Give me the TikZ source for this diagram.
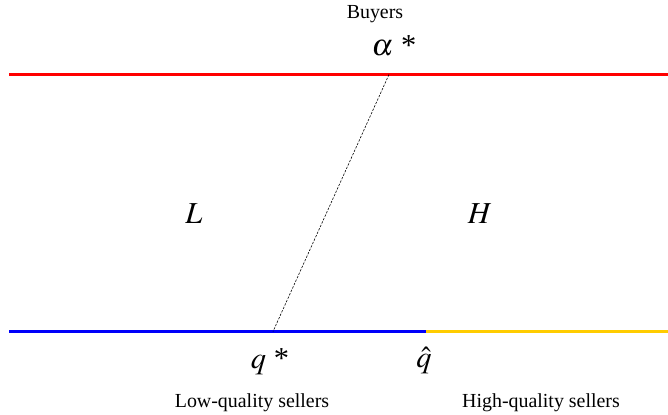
\documentclass[tikz,border=0pt]{standalone}
\usepackage{mathptmx}
\usepackage{fontspec}
\setmainfont{Liberation Serif}
\usetikzlibrary{positioning}
\definecolor{buyred}{RGB}{255,0,0}
\definecolor{lowblue}{RGB}{0,0,250}
\definecolor{highgold}{RGB}{255,204,0}
\tikzset{
  market/.style = {line width=3.4pt},
  lbl/.style    = {inner sep=0pt, font=\fontsize{17}{20}\selectfont},
  mlbl/.style   = {inner sep=0pt, font=\fontsize{26}{29}\selectfont},
  match/.style  = {draw=black, line width=0.5pt, dash pattern=on 2pt off 1.2pt},
}
\begin{document}
\begin{tikzpicture}[x=0.03cm, y=-0.03cm]
  \useasboundingbox (0,0) rectangle (668,414);

  % buyers side
  \coordinate (b0) at (9,74.5);
  \coordinate (b1) at (668,74.5);
  \coordinate (astar) at (389,74.5);
  \draw[market, buyred] (b0) -- (b1);

  % sellers side
  \coordinate (s0) at (9,331.5);
  \coordinate (qhat) at (426,331.5);
  \coordinate (s1) at (668,331.5);
  \coordinate (qstar) at (273,331.5);
  \draw[market, lowblue] (s0) -- (qhat);
  \draw[market, highgold] (qhat) -- (s1);

  \draw[match] (astar) -- (qstar);

  \node[lbl] (buyers) at (375,14) {Buyers};
  \node[mlbl] (alab) at (394,46) {$\alpha$\ *};
  \node[mlbl] (lab-L) at (194,214) {$L$};
  \node[mlbl] (lab-H) at (480,214) {$H$};
  \node[mlbl] (qlab) at (270,362) {$q$\ *};
  \node[mlbl] (qhlab) at (424,360) {$\hat{q}$};
  \node[lbl] (low) at (252,403) {Low-quality sellers};
  \node[lbl] (high) at (541,403) {High-quality sellers};
\end{tikzpicture}
\end{document}
